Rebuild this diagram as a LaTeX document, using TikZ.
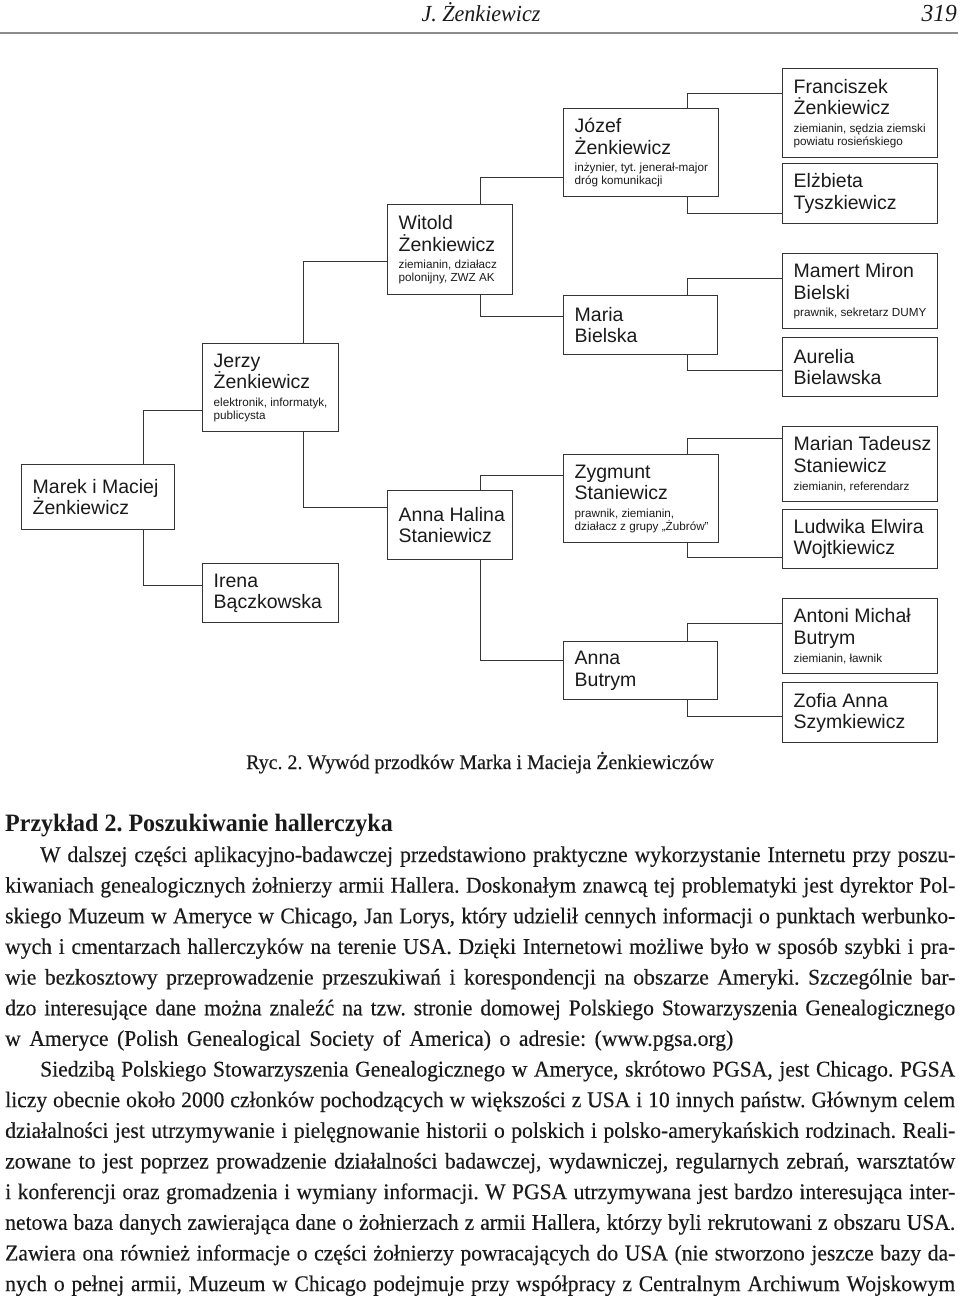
\documentclass[tikz,border=0pt]{standalone}
\usepackage{graphicx}
\usepackage{fontspec}
\setmainfont{Liberation Serif}[FakeStretch=0.96, UprightFeatures={FakeBold=0.3}]
\newfontfamily\boxfont{Liberation Sans}
\newcommand\namef{\boxfont\fontsize{19.5}{21.5}\selectfont}
\newcommand\detf{\boxfont\fontsize{11.7}{13}\selectfont}
\newcommand\bodyf{\fontsize{22.5}{30}\selectfont}
\newcommand\jline[2]{\sbox0{#2}\ifdim\wd0>#1\relax\resizebox{#1}{\height}{#2}\else\makebox[#1][s]{#2}\fi}
\newcommand\hl[1]{\hbox{#1}}
\newcommand\dets{\detf\vskip 4.6pt}
\definecolor{boxcol}{HTML}{353535}
\definecolor{inkcol}{HTML}{1A1A1A}
\newcommand\famnode[6]{%
  \node[boxs, minimum width=#4pt, minimum height=#5pt] (#1) at (#2,#3) {};
  \node[boxt] (#1t) at ([xshift=11.5pt]#1.west) {\vbox{\namef #6}};}
\frenchspacing
\begin{document}
\begin{tikzpicture}[x=1pt,y=-1pt,
  boxs/.style={draw=boxcol, line width=1.4pt, anchor=north west, inner sep=0pt},
  boxt/.style={anchor=west, inner sep=0pt, text=inkcol},
  link/.style={draw=boxcol, line width=1.4pt},
  bl/.style={anchor=base west, inner sep=0pt, font=\bodyf, text=inkcol},
  rule/.style={draw=black!45, line width=1.4pt}]
\useasboundingbox (0,0) rectangle (960,1296);

% running head
\node[anchor=base, inner sep=0pt, font=\itshape\fontsize{23}{26}\selectfont, text=inkcol] (runhead) at (481,21) {J. Żenkiewicz};
\node[anchor=base east, inner sep=0pt, font=\itshape\fontsize{24.5}{26}\selectfont, text=inkcol] (pageno) at (957,21) {319};
\draw[rule] (0,33) -- (958,33);

% family boxes
\famnode{marek}{21}{464}{153}{65}{\hl{Marek i Maciej}\hl{Żenkiewicz}}
\famnode{jerzy}{202}{343}{136}{88}{\hl{Jerzy}\hl{Żenkiewicz}\dets\hl{elektronik, informatyk,}\hl{publicysta}}
\famnode{irena}{202}{563}{136}{59}{\hl{Irena}\hl{Bączkowska}}
\famnode{witold}{387}{204}{125}{90}{\hl{Witold}\hl{Żenkiewicz}\dets\hl{ziemianin, działacz}\hl{polonijny, ZWZ AK}}
\famnode{annah}{387}{490}{125}{69}{\hl{Anna Halina}\hl{Staniewicz}}
\famnode{jozef}{563}{108}{155}{88}{\hl{Józef}\hl{Żenkiewicz}\dets\hl{inżynier, tyt. jenerał-major}\hl{dróg komunikacji}}
\famnode{maria}{563}{295}{154}{59}{\hl{Maria}\hl{Bielska}}
\famnode{zygmunt}{563}{454}{155}{88}{\hl{Zygmunt}\hl{Staniewicz}\dets\hl{prawnik, ziemianin,}\hl{działacz z grupy „Żubrów”}}
\famnode{annab}{563}{641}{154}{58}{\hl{Anna}\hl{Butrym}}
\famnode{franc}{782}{68}{155}{89}{\hl{Franciszek}\hl{Żenkiewicz}\dets\hl{ziemianin, sędzia ziemski}\hl{powiatu rosieńskiego}}
\famnode{elz}{782}{163}{155}{60}{\hl{Elżbieta}\hl{Tyszkiewicz}}
\famnode{mamert}{782}{253}{155}{75}{\hl{Mamert Miron}\hl{Bielski}\dets\hl{prawnik, sekretarz DUMY}}
\famnode{aurelia}{782}{337}{155}{59}{\hl{Aurelia}\hl{Bielawska}}
\famnode{marian}{782}{426}{155}{75}{\hl{Marian Tadeusz}\hl{Staniewicz}\dets\hl{ziemianin, referendarz}}
\famnode{ludwika}{782}{509}{155}{59}{\hl{Ludwika Elwira}\hl{Wojtkiewicz}}
\famnode{antoni}{782}{598}{155}{75}{\hl{Antoni Michał}\hl{Butrym}\dets\hl{ziemianin, ławnik}}
\famnode{zofia}{782}{682}{155}{60}{\hl{Zofia Anna}\hl{Szymkiewicz}}

% connectors
\draw[link] ([xshift=45.5pt]marek.north) |- ([yshift=-23pt]jerzy.west);
\draw[link] ([xshift=45.5pt]marek.south) |- ([yshift=7.5pt]irena.west);
\draw[link] ([xshift=33pt]jerzy.north) |- ([yshift=-12pt]witold.west);
\draw[link] ([xshift=33pt]jerzy.south) |- ([yshift=17.5pt]annah.west);
\draw[link] ([xshift=30.5pt]witold.north) |- ([yshift=-25pt]jozef.west);
\draw[link] ([xshift=30.5pt]witold.south) |- ([yshift=8.5pt]maria.west);
\draw[link] ([xshift=30.5pt]annah.north) |- ([yshift=23pt]zygmunt.west);
\draw[link] ([xshift=30.5pt]annah.south) |- ([yshift=10pt]annab.west);
\draw[link] ([xshift=46.5pt]jozef.north) |- ([yshift=19.5pt]franc.west);
\draw[link] ([xshift=46.5pt]jozef.south) |- ([yshift=-20pt]elz.west);
\draw[link] ([xshift=47pt]maria.north) |- ([yshift=12.5pt]mamert.west);
\draw[link] ([xshift=47pt]maria.south) |- ([yshift=-3.5pt]aurelia.west);
\draw[link] ([xshift=46.5pt]zygmunt.north) |- ([yshift=25.5pt]marian.west);
\draw[link] ([xshift=46.5pt]zygmunt.south) |- ([yshift=-18.5pt]ludwika.west);
\draw[link] ([xshift=47pt]annab.north) |- ([yshift=12.5pt]antoni.west);
\draw[link] ([xshift=47pt]annab.south) |- ([yshift=-4pt]zofia.west);

% caption and body text
\node[anchor=base, inner sep=0pt, font=\fontsize{20.8}{24}\selectfont, text=inkcol] (caption) at (480,769) {Ryc. 2. Wywód przodków Marka i Macieja Żenkiewiczów};
\node[anchor=base west, inner sep=0pt, font=\bfseries\fontsize{25}{28}\selectfont, text=inkcol] (heading) at (5,831) {Przykład 2. Poszukiwanie hallerczyka};

\node[bl] (l1) at (40,862) {\jline{915pt}{W dalszej części aplikacyjno-badawczej przedstawiono praktyczne wykorzystanie Internetu przy poszu-}};
\node[bl] (l2) at (5,892.65) {\jline{950pt}{kiwaniach genealogicznych żołnierzy armii Hallera. Doskonałym znawcą tej problematyki jest dyrektor Pol-}};
\node[bl] (l3) at (5,923.3) {\jline{950pt}{skiego Muzeum w Ameryce w Chicago, Jan Lorys, który udzielił cennych informacji o punktach werbunko-}};
\node[bl] (l4) at (5,953.95) {\jline{950pt}{wych i cmentarzach hallerczyków na terenie USA. Dzięki Internetowi możliwe było w sposób szybki i pra-}};
\node[bl] (l5) at (5,984.6) {\jline{950pt}{wie bezkosztowy przeprowadzenie przeszukiwań i korespondencji na obszarze Ameryki. Szczególnie bar-}};
\node[bl] (l6) at (5,1015.25) {\jline{950pt}{dzo interesujące dane można znaleźć na tzw. stronie domowej Polskiego Stowarzyszenia Genealogicznego}};
\node[bl] (l7) at (5,1045.9) {\jline{728pt}{w Ameryce (Polish Genealogical Society of America) o adresie: (www.pgsa.org)}};
\node[bl] (l8) at (40,1076.55) {\jline{915pt}{Siedzibą Polskiego Stowarzyszenia Genealogicznego w Ameryce, skrótowo PGSA, jest Chicago. PGSA}};
\node[bl] (l9) at (5,1107.2) {\jline{950pt}{liczy obecnie około 2000 członków pochodzących w większości z USA i 10 innych państw. Głównym celem}};
\node[bl] (l10) at (5,1137.85) {\jline{950pt}{działalności jest utrzymywanie i pielęgnowanie historii o polskich i polsko-amerykańskich rodzinach. Reali-}};
\node[bl] (l11) at (5,1168.5) {\jline{950pt}{zowane to jest poprzez prowadzenie działalności badawczej, wydawniczej, regularnych zebrań, warsztatów}};
\node[bl] (l12) at (5,1199.15) {\jline{950pt}{i konferencji oraz gromadzenia i wymiany informacji. W PGSA utrzymywana jest bardzo interesująca inter-}};
\node[bl] (l13) at (5,1229.8) {\jline{950pt}{netowa baza danych zawierająca dane o żołnierzach z armii Hallera, którzy byli rekrutowani z obszaru USA.}};
\node[bl] (l14) at (5,1260.45) {\jline{950pt}{Zawiera ona również informacje o części żołnierzy powracających do USA (nie stworzono jeszcze bazy da-}};
\node[bl] (l15) at (5,1291.1) {\jline{950pt}{nych o pełnej armii, Muzeum w Chicago podejmuje przy współpracy z Centralnym Archiwum Wojskowym}};
\end{tikzpicture}
\end{document}
